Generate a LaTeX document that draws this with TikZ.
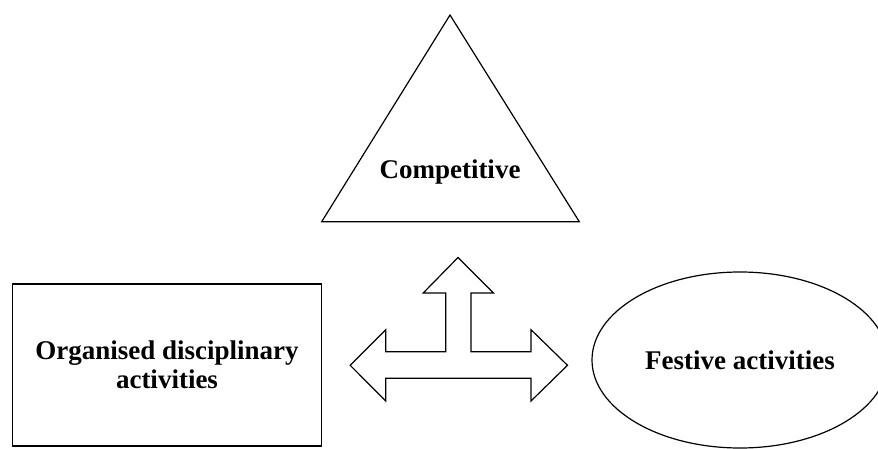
\documentclass[tikz,border=0pt]{standalone}
\usepackage{fontspec}
\setmainfont{Liberation Serif}
\usetikzlibrary{shapes.geometric}

\begin{document}
\begin{tikzpicture}[x=0.5pt,y=-0.5pt,line width=0.6pt,
    lbl/.style={font=\bfseries\fontsize{13.5}{14.5}\selectfont,align=center},
    box/.style={lbl,draw,minimum width=154.7pt,minimum height=81pt,inner sep=0pt},
    oval/.style={lbl,draw,ellipse,minimum width=148pt,minimum height=88pt,inner sep=0pt}]
  \useasboundingbox (0,0) rectangle (878,449);
  % triangle on top
  \coordinate (top) at (450,15);
  \coordinate (bl) at (321.7,221.7);
  \coordinate (br) at (579.3,221.7);
  \draw (top) -- (bl) -- (br) -- cycle;
  \node[lbl] (comp) at (450,172) {Competitive};
  % left and right
  \node[box] (org) at (167,365) {Organised disciplinary\\activities};
  \node[oval] (fest) at (740,360) {Festive activities};
  % three-way arrow
  \coordinate (c) at (458,365);
  \draw (c) ++(0,-107.5) -- ++(35.5,35.5) -- ++(-22.5,0) -- ++(0,58.7)
    -- ++(60,0) -- ++(0,-22) -- ++(36.5,35.6) -- ++(-36.5,35.7) -- ++(0,-22.7)
    -- ++(-145.3,0) -- ++(0,22.7) -- ++(-35.5,-35.7) -- ++(35.5,-35.6)
    -- ++(0,22) -- ++(60,0) -- ++(0,-58.7) -- ++(-22.5,0) -- cycle;
\end{tikzpicture}
\end{document}
